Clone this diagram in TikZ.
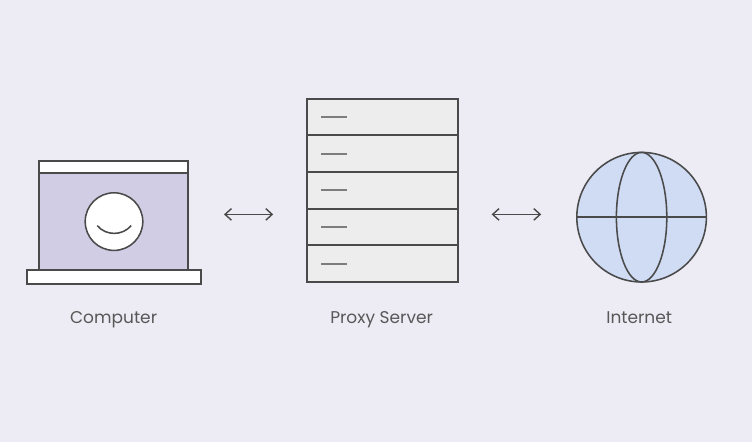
\documentclass[tikz,border=0pt]{standalone}
\usepackage{fontspec}
\setmainfont{Poppins}
\usetikzlibrary{arrows.meta}
\definecolor{pageBg}{HTML}{EDEBF4}
\definecolor{inkLine}{HTML}{4A4A4A}
\definecolor{screenFill}{HTML}{D1CDE4}
\definecolor{serverFill}{HTML}{EDEDED}
\definecolor{globeFill}{HTML}{CFDCF3}
\tikzset{
  iconLine/.style={draw=inkLine, line width=1.38pt},
  linkArrow/.style={{Straight Barb[length=1.6mm, width=2.9mm]}-{Straight Barb[length=1.6mm, width=2.9mm]}, draw=inkLine, line width=1pt},
  iconLabel/.style={text=inkLine!92, font=\fontsize{12.1}{14}\selectfont, inner sep=0pt, anchor=base}
}

\begin{document}
\begin{tikzpicture}
  % Fundo
  \fill[pageBg] (0,0) rectangle (18.8,11.05);
  \useasboundingbox (0,0) rectangle (18.8,11.05);

  %% --- COMPUTER ---
  \begin{scope}
    % Tela
    \draw[iconLine, fill=white] (0.975,6.73) rectangle (4.7,7.03);
    \draw[iconLine, fill=screenFill] (0.975,4.3) rectangle (4.7,6.73);
    \draw[iconLine, fill=white] (0.67,3.96) rectangle (5.02,4.3);

    % Rosto
    \draw[iconLine, line width=1.1pt, fill=white] (2.85,5.51) circle (0.72);
    \draw[iconLine, line width=1.1pt] (2.43,5.41) .. controls (2.65,5.15) and (3.06,5.15) .. (3.28,5.41);

    \node[iconLabel] (pcLabel) at (2.84,2.97) {Computer};
  \end{scope}

  %% --- PROXY SERVER ---
  \begin{scope}
    \draw[iconLine, fill=serverFill] (7.67,4) rectangle (11.45,8.58);

    % Divisorias
    \foreach \i in {1,...,4}
      \draw[iconLine] (7.67,{4+0.916*\i}) -- (11.45,{4+0.916*\i});

    % Tracinhos
    \foreach \i in {0,...,4}
      \draw[iconLine, draw=inkLine!72] (8.03,{4.46+0.916*\i}) -- (8.68,{4.46+0.916*\i});

    \node[iconLabel] (proxyLabel) at (9.54,2.97) {Proxy Server};
  \end{scope}

  %% --- INTERNET ---
  \begin{scope}
    \draw[iconLine, line width=1.1pt, fill=globeFill] (16.04,5.62) circle (1.62);
    \draw[iconLine, line width=1.1pt] (16.04,5.62) ellipse (0.63 and 1.62);
    \draw[iconLine, line width=1.1pt] (14.42,5.62) -- (17.66,5.62);

    \node[iconLabel] (netLabel) at (15.98,2.97) {Internet};
  \end{scope}

  %% Setas
  \coordinate (pcEnd) at (5.6,5.69);
  \coordinate (proxyIn) at (6.83,5.69);
  \coordinate (proxyOut) at (12.29,5.69);
  \coordinate (netEnd) at (13.53,5.69);
  \draw[linkArrow] (pcEnd) -- (proxyIn);
  \draw[linkArrow] (proxyOut) -- (netEnd);
\end{tikzpicture}
\end{document}
